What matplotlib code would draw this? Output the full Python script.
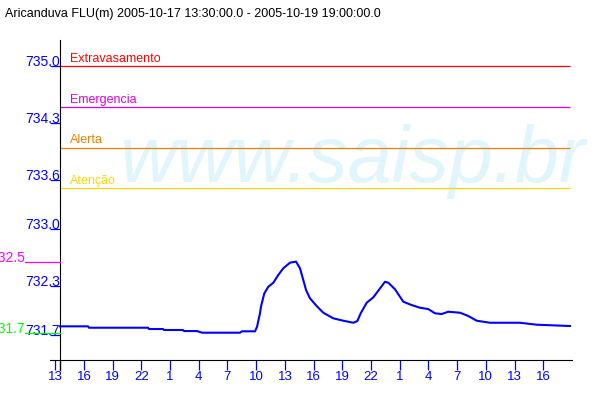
import matplotlib
matplotlib.use('Agg')
import matplotlib.pyplot as plt

plt.rcParams['font.family'] = ['Liberation Sans', 'DejaVu Sans']

# horas desde 2005-10-17 00:00 e nivel (m)
horas = [13.5, 16.43, 16.53, 22.7, 22.8, 24.26, 24.37, 26.35, 26.46, 27.82,
         28.34, 32.31, 32.52, 33.88, 34.09, 34.4, 34.5, 34.85, 35.27, 35.79,
         36.31, 36.83, 37.53, 38.16, 38.58, 38.92, 39.21, 39.62, 40.32, 41.01,
         42.06, 43.10, 44.15, 44.57, 44.92, 45.55, 46.24, 46.94, 47.46, 47.81,
         48.51, 49.37, 50.25, 51.12, 51.98, 52.68, 53.38, 54.07, 55.30, 56.16,
         57.04, 58.43, 61.57, 63.31, 66.79]
nivel = [731.806, 731.806, 731.789, 731.789, 731.773, 731.773, 731.761, 731.761, 731.748, 731.748,
         731.728, 731.728, 731.745, 731.745, 731.801, 731.969, 732.047, 732.211, 732.292, 732.341,
         732.436, 732.518, 732.587, 732.600, 732.518, 732.374, 732.252, 732.150, 732.055, 731.973,
         731.904, 731.875, 731.850, 731.871, 731.966, 732.096, 732.162, 732.272, 732.353, 732.341,
         732.260, 732.108, 732.067, 732.034, 732.018, 731.966, 731.957, 731.985, 731.973, 731.933,
         731.875, 731.850, 731.850, 731.826, 731.810]

limiares = ['Extravasamento', 'Emergencia', 'Alerta', 'Atenção']
limiar_vals = [735.0, 734.5, 734.0, 733.5]
limiar_cores = ['#ff0000', '#e000e0', '#f08000', '#ffd700']

yticks = [735.0, 734.3, 733.6, 733.0, 732.3, 731.7]
xticks = [13, 16, 19, 22, 25, 28, 31, 34, 37, 40, 43, 46, 49, 52, 55, 58, 61, 64]
xlabels = [str(h % 24) for h in xticks]

# max / min marks on the left
marcas = [732.59, 731.72]
marcas_txt = ['732.5', '731.7']
marcas_cores = ['#ff00ff', '#00ff00']

titulo = 'Aricanduva FLU(m) 2005-10-17 13:30:00.0 - 2005-10-19 19:00:00.0'

fig = plt.figure(figsize=(6, 4), dpi=100)
ax = fig.add_axes([50/600, 40/400, 522/600, 320/400])
ax.set_xlim(12.455, 67.0)
ax.set_ylim(731.393, 735.319)

ax.text(352/600, 1 - 182/400, 'www.saisp.br', transform=fig.transFigure,
        fontsize=57, style='italic', color='#e1f5fd', va='baseline', ha='center', zorder=0)

ax.hlines(limiar_vals, 13.5, 66.8, colors=limiar_cores, linewidth=0.9, zorder=2)
for nome, v, c in zip(limiares, limiar_vals, limiar_cores):
    ax.annotate(nome, (14.55, v), xytext=(0, 3), textcoords='offset points',
                color=c, fontsize=9, va='baseline', ha='left')

ax.plot(horas, nivel, color='#0000ff', linewidth=1.5, zorder=3)

for v, t, c in zip(marcas, marcas_txt, marcas_cores):
    ax.plot([9.84, 13.5], [v, v], color=c, linewidth=0.9, clip_on=False, zorder=4)
    ax.text(9.84, v, t, color=c, fontsize=10, ha='right', va='baseline')

ax.spines['top'].set_visible(False)
ax.spines['right'].set_visible(False)
ax.spines['left'].set_position(('data', 13.5))
ax.plot([13.5, 13.5], [731.27, 731.393], color='black', linewidth=1, clip_on=False)

ax.set_yticks(yticks)
ax.set_yticklabels(['%.1f' % v for v in yticks])
ax.tick_params(axis='y', colors='#0000ff', length=7.2, width=0.9, pad=-7.2, labelsize=10)
for lbl in ax.get_yticklabels():
    lbl.set_va('baseline')

ax.set_xticks(xticks)
ax.set_xticklabels(xlabels)
ax.tick_params(axis='x', colors='#0000ff', length=7.2, width=0.9, pad=1, labelsize=9.5)

fig.text(5/600, 1 - 17/400, titulo, fontsize=9, color='black', va='baseline', ha='left')

fig.savefig('out.png', dpi=100)
